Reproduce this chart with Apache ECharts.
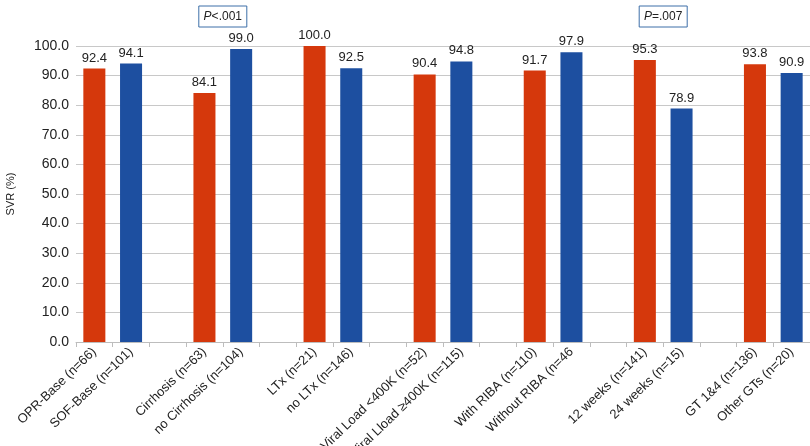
<!DOCTYPE html>
<html>
<head>
<meta charset="utf-8">
<script src="https://cdn.jsdelivr.net/npm/echarts@6/dist/echarts.min.js"></script>
<style>
  html, body { margin: 0; padding: 0; background: #fff; }
  #main { width: 810px; height: 446px; }
</style>
</head>
<body>
<div id="main"></div>
<script>
// pairs of groups, red one first, blue one second
var redNames = ["OPR-Base (n=66)", "Cirrhosis (n=63)", "LTx (n=21)", "Viral Load <400K (n=52)", "With RIBA (n=110)", "12 weeks (n=141)", "GT 1&4 (n=136)"];
var blueNames = ["SOF-Base (n=101)", "no Cirrhosis (n=104)", "no LTx (n=146)", "Viral Lload \u2265400K (n=115)", "Without RIBA (n=46", "24 weeks (n=15)", "Other GTs (n=20)"];
var redValues = [92.4, 84.1, 100.0, 90.4, 91.7, 95.3, 93.8];
var blueValues = [94.1, 99.0, 92.5, 94.8, 97.9, 78.9, 90.9];
var yTicks = { min: 0, max: 100, interval: 10 };
// p-value notes: text and the pair index they sit over
var pNotes = [
  { italic: "P", rest: "<.001", pair: 1 },
  { italic: "P", rest: "=.007", pair: 5 }
];

// build category list with an empty gap between the pairs
var categories = [];
var redData = [];
var blueData = [];
for (var i = 0; i < redNames.length; i++) {
  if (i > 0) {
    categories.push("");
    redData.push("-");
    blueData.push("-");
  }
  categories.push(redNames[i]);
  redData.push(redValues[i]);
  blueData.push("-");
  categories.push(blueNames[i]);
  redData.push("-");
  blueData.push(blueValues[i]);
}

var chart = echarts.init(document.getElementById("main"));
var labelStyle = {
  show: true,
  position: "top",
  distance: 4,
  color: "#222",
  fontSize: 13,
  fontFamily: "Liberation Sans, Arial",
  formatter: function (p) {
    return p.value.toFixed(1);
  }
};
var option = {
  animation: false,
  grid: {
    left: 76,
    right: 0,
    top: 46,
    bottom: 104,
    containLabel: false,
    outerBoundsMode: "none"
  },
  xAxis: {
    type: "category",
    data: categories,
    axisLine: { lineStyle: { color: "#bdbdbd" } },
    axisTick: { show: true, length: 5, lineStyle: { color: "#bdbdbd" } },
    axisLabel: {
      interval: 0,
      rotate: 44,
      margin: 8,
      color: "#222",
      fontSize: 13,
      fontFamily: "Liberation Sans, Arial"
    }
  },
  yAxis: {
    type: "value",
    min: yTicks.min,
    max: yTicks.max,
    interval: yTicks.interval,
    name: "SVR (%)",
    nameLocation: "middle",
    nameGap: 60,
    nameTextStyle: { color: "#222", fontSize: 11, fontFamily: "Liberation Sans, Arial" },
    axisLine: { show: false },
    axisTick: { show: false },
    splitLine: { lineStyle: { color: "#c8c8c8", width: 1 } },
    axisLabel: {
      margin: 7,
      color: "#222",
      fontSize: 14,
      fontFamily: "Liberation Sans, Arial",
      formatter: function (v) {
        return v.toFixed(1);
      }
    }
  },
  series: [
    {
      name: "red",
      type: "bar",
      stack: "all",
      barWidth: "60%",
      data: redData,
      itemStyle: { color: "#d5380c" },
      label: labelStyle
    },
    {
      name: "blue",
      type: "bar",
      stack: "all",
      barWidth: "60%",
      data: blueData,
      itemStyle: { color: "#1d4fa0" },
      label: labelStyle
    }
  ]
};
chart.setOption(option);

// p-value boxes centred between the two bars of a pair
var graphics = [];
pNotes.forEach(function (n) {
  var idx = n.pair * 3;
  var x1 = chart.convertToPixel({ xAxisIndex: 0 }, categories[idx]);
  var x2 = chart.convertToPixel({ xAxisIndex: 0 }, categories[idx + 1]);
  var cx = (x1 + x2) / 2;
  graphics.push({
    type: "rect",
    shape: { x: cx - 24, y: 6, width: 48, height: 21 },
    style: { fill: "#fff", stroke: "#3d6fa8", lineWidth: 1 }
  });
  graphics.push({
    type: "text",
    x: cx,
    y: 16.5,
    style: {
      text: "{i|" + n.italic + "}" + n.rest,
      align: "center",
      verticalAlign: "middle",
      fill: "#222",
      font: "12px Liberation Sans, Arial",
      rich: { i: { fontStyle: "italic", fontSize: 12, fontFamily: "Liberation Sans, Arial" } }
    }
  });
});
chart.setOption({ graphic: graphics });
</script>
</body>
</html>
